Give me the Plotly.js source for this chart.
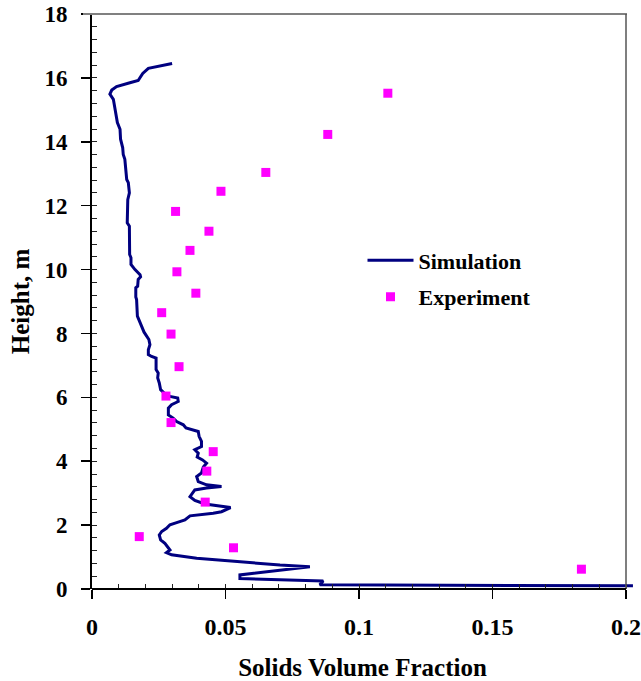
<!DOCTYPE html>
<html>
<head>
<meta charset="utf-8">
<script src="https://cdn.plot.ly/plotly-3.0.1.min.js"></script>
<style>
html,body{margin:0;padding:0;background:#fff;}
#chart{width:641px;height:681px;}
</style>
</head>
<body>
<div id="chart"></div>
<script>
// Simulation profile (solids volume fraction vs height)
const simX = [0.0300,0.0211,0.0190,0.0173,0.0142,0.0092,0.0074,0.0067,0.0080,0.0086,0.0095,0.0105,0.0107,0.0115,0.0117,0.0123,0.0127,0.0130,0.0136,0.0140,0.0134,0.0132,0.0132,0.0140,0.0141,0.0146,0.0146,0.0161,0.0180,0.0182,0.0173,0.0171,0.0164,0.0164,0.0167,0.0170,0.0177,0.0186,0.0195,0.0205,0.0213,0.0217,0.0211,0.0211,0.0223,0.0240,0.0240,0.0248,0.0246,0.0252,0.0257,0.0273,0.0292,0.0321,0.0323,0.0298,0.0286,0.0286,0.0304,0.0317,0.0342,0.0352,0.0398,0.0401,0.0410,0.0410,0.0385,0.0398,0.0394,0.0414,0.0429,0.0417,0.0410,0.0392,0.0398,0.0429,0.0485,0.0429,0.0385,0.0367,0.0385,0.0423,0.0479,0.0519,0.0485,0.0454,0.0367,0.0348,0.0317,0.0292,0.0279,0.0261,0.0252,0.0257,0.0273,0.0282,0.0292,0.0279,0.0298,0.0392,0.0541,0.0704,0.0816,0.0554,0.0554,0.0866,0.0853,0.2026];
const simY = [16.45,16.30,16.14,15.92,15.85,15.73,15.62,15.49,15.33,15.02,14.60,14.39,14.08,13.81,13.60,13.45,13.19,12.82,12.72,12.40,12.19,11.88,11.46,11.36,10.47,10.37,10.16,10.00,9.84,9.77,9.69,9.48,9.43,9.14,9.06,8.54,8.38,8.22,8.04,7.91,7.81,7.65,7.49,7.34,7.28,7.23,6.87,6.76,6.61,6.45,6.24,6.11,6.03,5.98,5.87,5.77,5.66,5.45,5.35,5.24,5.14,5.04,4.93,4.78,4.62,4.46,4.36,4.25,4.13,4.04,3.94,3.82,3.63,3.52,3.36,3.26,3.21,3.16,3.10,2.89,2.77,2.66,2.60,2.55,2.42,2.37,2.29,2.16,2.08,2.01,1.90,1.80,1.69,1.54,1.43,1.33,1.22,1.14,1.07,0.96,0.86,0.75,0.70,0.44,0.33,0.25,0.13,0.10];

// Experimental points
const expX = [0.1108,0.0883,0.0651,0.0483,0.0313,0.0438,0.0367,0.0318,0.0389,0.0261,0.0296,0.0326,0.0277,0.0296,0.0454,0.0430,0.0424,0.0177,0.0530,0.1833];
const expY = [15.52,14.23,13.04,12.45,11.82,11.20,10.60,9.93,9.26,8.65,7.98,6.96,6.04,5.21,4.30,3.69,2.72,1.64,1.29,0.62];

const xTitle = "Solids Volume Fraction";
const yTitle = "Height, m";
const seriesNames = ["Simulation", "Experiment"];

const FONT = '"Liberation Serif", "Times New Roman", serif';
const xRange = [0, 0.20262];
const yRange = [0, 18];

const traces = [
  {x: simX, y: simY, type: 'scatter', mode: 'lines', name: seriesNames[0], legendgroup: 'a',
   line: {color: '#000080', width: 3}, hoverinfo: 'skip'},
  {x: expX, y: expY, type: 'scatter', mode: 'markers', name: seriesNames[1], legendgroup: 'b',
   marker: {symbol: 'square', size: 9, color: '#FF00FF'}, hoverinfo: 'skip'},
  {x: [], y: [], xaxis: 'x2', yaxis: 'y2', showlegend: false, hoverinfo: 'skip'}
];

const layout = {
  width: 641, height: 681,
  margin: {l: 92, r: 8, t: 14, b: 92},
  paper_bgcolor: '#fff', plot_bgcolor: '#fff',
  showlegend: true,
  font: {family: FONT, color: '#000', weight: 'bold'},
  xaxis: {
    range: xRange, dtick: 0.05, tick0: 0,
    ticks: 'outside', ticklen: 9, tickwidth: 1.5, tickcolor: '#000',
    showline: false, showgrid: false, zeroline: false,
    tickfont: {family: FONT, size: 24, weight: 'bold', color: '#000'},
    ticklabelstandoff: 7,
    title: {text: xTitle, font: {family: FONT, size: 25, weight: 'bold', color: '#000'}, standoff: 23}
  },
  yaxis: {
    range: yRange, dtick: 2, tick0: 0,
    ticks: 'outside', ticklen: 9, tickwidth: 1.5, tickcolor: '#000',
    showline: true, linecolor: '#000', linewidth: 2,
    showgrid: false, zeroline: false,
    tickfont: {family: FONT, size: 23, weight: 'bold', color: '#000'},
    ticklabelstandoff: 9,
    title: {text: yTitle, font: {family: FONT, size: 25, weight: 'bold', color: '#000'}, standoff: 8}
  },
  xaxis2: {
    overlaying: 'x', range: xRange, dtick: 0.01, tick0: 0, side: 'bottom',
    ticks: 'inside', ticklen: 5, tickwidth: 1, tickcolor: '#222',
    showticklabels: false, showline: false, showgrid: false, zeroline: false
  },
  yaxis2: {
    overlaying: 'y', range: yRange, dtick: 0.4, tick0: 0, side: 'left',
    ticks: 'inside', ticklen: 5, tickwidth: 1, tickcolor: '#222',
    showticklabels: false, showline: false, showgrid: false, zeroline: false
  },
  legend: {
    x: 0.50, y: 0.608, xanchor: 'left', yanchor: 'top',
    bgcolor: 'rgba(0,0,0,0)', borderwidth: 0,
    font: {family: FONT, size: 22, weight: 'bold', color: '#000'},
    itemwidth: 46, tracegroupgap: 5, traceorder: 'grouped'
  },
  shapes: [
    {type: 'line', xref: 'paper', yref: 'paper', x0: -9/541, x1: 535/541, y0: 1, y1: 1,
     line: {color: '#808080', width: 2}},
    {type: 'line', xref: 'paper', yref: 'paper', x0: 534/541, x1: 534/541, y0: 0, y1: 1,
     line: {color: '#555555', width: 1.5}},
    {type: 'line', xref: 'paper', yref: 'paper', x0: 0, x1: 534/541, y0: 0, y1: 0,
     line: {color: '#000', width: 2}}
  ]
};

Plotly.newPlot('chart', traces, layout, {staticPlot: true, displayModeBar: false});
</script>
</body>
</html>
